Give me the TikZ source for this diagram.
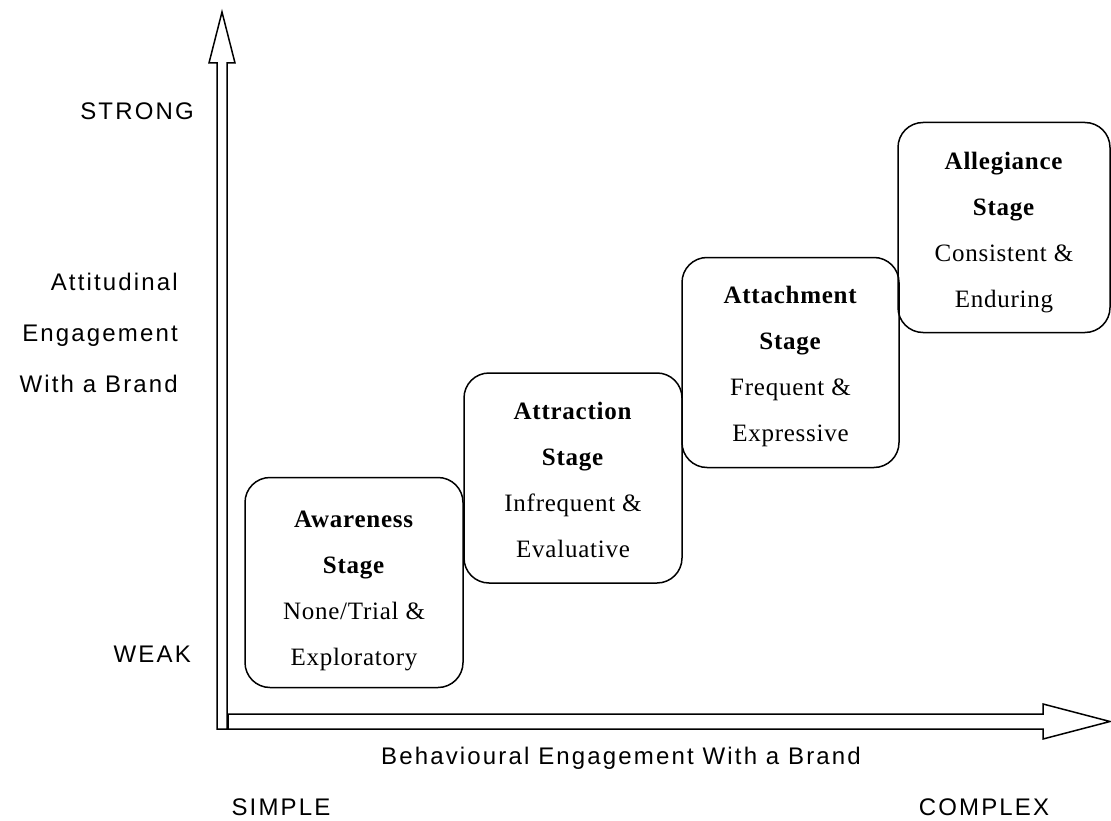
\documentclass[tikz,border=0pt]{standalone}
\usepackage{fontspec}
\newfontfamily\axisfont[LetterSpace=9]{Liberation Sans}
\newfontfamily\stagefont[LetterSpace=3]{Liberation Serif}
\begin{document}
\begin{tikzpicture}[x=1pt,y=-1pt,
  axislabel/.style={font=\axisfont\fontsize{24}{51}\selectfont, inner sep=0pt},
  stagebox/.style={draw, line width=1.5pt, rounded corners=25pt,
    minimum width=218pt, minimum height=210pt, inner sep=0pt},
  stagetext/.style={inner sep=0pt, align=center,
    font=\stagefont\fontsize{25}{46}\selectfont},
  hollowarrow/.style={draw, fill=white, line width=1.5pt, line join=miter}]
\useasboundingbox (0,0) rectangle (1111,821);

% vertical axis: hollow block arrow
\path[hollowarrow] (217,729) -- (217,63) -- (209,63) -- (222,12) -- (235,63)
  -- (227,63) -- (227,729) -- cycle;
% horizontal axis: hollow block arrow
\path[hollowarrow] (228,714) -- (1043,714) -- (1043,704) -- (1110,721.5)
  -- (1043,739) -- (1043,729) -- (228,729) -- cycle;

% axis labels
\node[axislabel, anchor=east] (strong) at (194,111) {STRONG};
\node[axislabel, anchor=east, align=right] (yname) at (178,333)
  {Attitudinal\\Engagement\\With a Brand};
\node[axislabel, anchor=east] (weak) at (191,654) {WEAK};
\node[axislabel] (xname) at (621,758) {Behavioural Engagement With a Brand};
\node[axislabel] (simple) at (281,807) {SIMPLE};
\node[axislabel] (complex) at (984,807) {COMPLEX};

% engagement stages: rounded frames
\node[stagebox] (awareness) at (354,582.5) {};
\node[stagebox] (attraction) at (573,478) {};
\node[stagebox, minimum width=217pt] (attachment) at (790.5,362.5) {};
\node[stagebox, minimum width=212pt] (allegiance) at (1004,227.5) {};

% stage names and descriptions
\node[stagetext] (awarenesstext) at ([yshift=-8pt]awareness.center)
  {\textbf{Awareness}\\\textbf{Stage}\\None/Trial \&\\Exploratory};
\node[stagetext] (attractiontext) at ([yshift=-2pt]attraction.center)
  {\textbf{Attraction}\\\textbf{Stage}\\Infrequent \&\\Evaluative};
\node[stagetext] (attachmenttext) at ([yshift=-4pt]attachment.center)
  {\textbf{Attachment}\\\textbf{Stage}\\Frequent \&\\Expressive};
\node[stagetext] (allegiancetext) at ([yshift=-5pt]allegiance.center)
  {\textbf{Allegiance}\\\textbf{Stage}\\Consistent \&\\Enduring};
\end{tikzpicture}
\end{document}
